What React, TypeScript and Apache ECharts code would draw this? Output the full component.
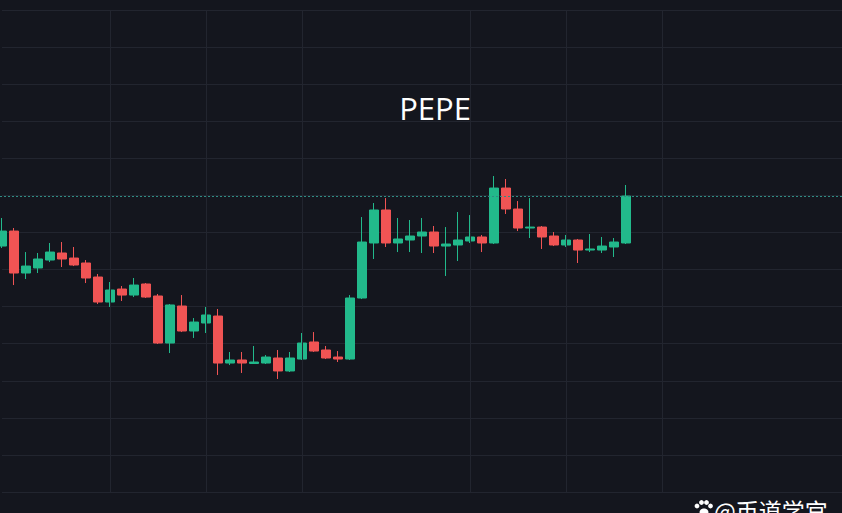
import React, { useEffect, useRef } from "react";
import * as echarts from "echarts";

// OHLC values (arbitrary price units)
const opens = [
  1.3317, 1.3519, 1.2953, 1.3021, 1.3128, 1.3223, 1.3155, 1.3088, 1.2899, 1.2562,
  1.2737, 1.2656, 1.2805, 1.2643, 1.2009, 1.2508, 1.2171, 1.2279, 1.2373, 1.1739,
  1.178, 1.1733, 1.1739, 1.1807, 1.1632, 1.1793, 1.2023, 1.1915, 1.182, 1.1793,
  1.2616, 1.3358, 1.3803, 1.3358, 1.3398, 1.3452, 1.3506, 1.3317, 1.3331, 1.3385,
  1.3439, 1.3358, 1.4099, 1.3816, 1.356, 1.3573, 1.3452, 1.3331, 1.3398, 1.3263,
  1.3263, 1.3304, 1.3358,
];
const closes = [
  1.3519, 1.2953, 1.3047, 1.3142, 1.3236, 1.3142, 1.3061, 1.2886, 1.2562, 1.2724,
  1.2656, 1.2791, 1.2629, 1.2009, 1.2522, 1.2171, 1.2292, 1.2387, 1.1739, 1.178,
  1.1739, 1.1753, 1.182, 1.1632, 1.1807, 1.2009, 1.1901, 1.1807, 1.1793, 1.2616,
  1.3371, 1.3803, 1.3358, 1.3412, 1.3452, 1.3506, 1.3317, 1.3344, 1.3398, 1.3439,
  1.3358, 1.4099, 1.3816, 1.356, 1.3573, 1.3439, 1.3331, 1.3398, 1.3263, 1.3277,
  1.3317, 1.3371, 1.3991,
];
const lows = [
  1.329, 1.2791, 1.2872, 1.2953, 1.3101, 1.3034, 1.3047, 1.2818, 1.2535, 1.2495,
  1.2576, 1.2629, 1.2616, 1.1996, 1.1874, 1.2157, 1.2077, 1.2144, 1.1578, 1.1712,
  1.1605, 1.1726, 1.1726, 1.1524, 1.1618, 1.178, 1.1888, 1.1793, 1.1753, 1.178,
  1.2602, 1.3142, 1.3304, 1.3236, 1.3236, 1.3223, 1.3223, 1.2913, 1.3115, 1.3358,
  1.3236, 1.3344, 1.3749, 1.3519, 1.3425, 1.3277, 1.3317, 1.3304, 1.3088, 1.3236,
  1.3223, 1.3169, 1.3344,
];
const highs = [
  1.3695, 1.356, 1.3236, 1.3223, 1.3358, 1.3371, 1.3304, 1.3128, 1.294, 1.2832,
  1.2778, 1.2886, 1.2818, 1.267, 1.2535, 1.2656, 1.2346, 1.2495, 1.2468, 1.1888,
  1.1888, 1.1969, 1.1847, 1.1915, 1.1888, 1.2144, 1.2157, 1.1969, 1.1901, 1.2656,
  1.3708, 1.3897, 1.3964, 1.3695, 1.3668, 1.3695, 1.3587, 1.3573, 1.3776, 1.3735,
  1.3466, 1.4261, 1.4221, 1.3924, 1.3964, 1.3587, 1.3506, 1.3466, 1.3412, 1.3479,
  1.3439, 1.3425, 1.414,
];
// total category slots (empty space on the right of the last candle)
const slotCount = 71;
const categories = Array.from({ length: slotCount }, (_, i) => `D${i + 1}`);
// slots where the vertical grid lines fall
const gridSlots = [9, 17, 25, 39, 47, 55];

const BG = "#14161e";
const GRID = "#22252f";
const UP = "#22b98b";
const DOWN = "#f05454";

export default function App() {
  const ref = useRef<HTMLDivElement>(null);
  useEffect(() => {
    if (!ref.current) return;
    const chart = echarts.init(ref.current, undefined, { renderer: "svg" });
    const ohlc = opens.map((o, i) => [o, closes[i], lows[i], highs[i]]);
    const lastClose = closes[closes.length - 1];
    chart.setOption({
      animation: false,
      backgroundColor: BG,
      grid: { left: 2, top: 10, width: (slotCount - 1) * 12.02, height: 482 },
      xAxis: {
        type: "category",
        data: categories,
        boundaryGap: false,
        axisLine: { show: false },
        axisTick: { show: false },
        axisLabel: { show: false },
        splitLine: { show: false },
      },
      yAxis: {
        type: "value",
        min: 1.0,
        max: 1.65,
        interval: 0.05,
        axisLine: { show: false },
        axisTick: { show: false },
        axisLabel: { show: false },
        splitLine: { show: true, lineStyle: { color: GRID, width: 1 } },
      },
      series: [
        {
          type: "line",
          z: 1,
          data: opens.map(() => "-"),
          silent: true,
          markLine: {
            silent: true,
            symbol: ["none", "none"],
            label: { show: false },
            lineStyle: { color: GRID, type: "solid", width: 1 },
            data: gridSlots.map((s) => ({ xAxis: categories[s] })),
          },
        },
        {
          type: "candlestick",
          z: 3,
          clip: false,
          barWidth: 9,
          data: ohlc,
          itemStyle: {
            color: UP,
            color0: DOWN,
            borderColor: UP,
            borderColor0: DOWN,
            borderWidth: 1,
          },
          markLine: {
            silent: true,
            symbol: ["none", "none"],
            label: { show: false },
            lineStyle: { color: "#2f8c84", type: [2, 2], width: 1 },
            data: [
              [
                { coord: [categories[0], lastClose], x: 0 },
                { coord: [categories[slotCount - 1], lastClose] },
              ],
            ],
          },
        },
      ],
      graphic: [
        {
          type: "text",
          x: 435,
          y: 108,
          style: {
            text: "PEPE",
            fill: "#ffffff",
            font: '31px "Open Sans"',
            textAlign: "center",
            textVerticalAlign: "middle",
          },
        },
        {
          type: "text",
          x: 714,
          y: 498,
          style: {
            text: "@币道学宫",
            fill: "#ffffff",
            font: '23px "Noto Sans CJK SC"',
            textAlign: "left",
            textVerticalAlign: "top",
          },
        },
        { type: "circle", shape: { cx: 697, cy: 506, r: 2.4 }, style: { fill: "#ffffff" } },
        { type: "circle", shape: { cx: 701.5, cy: 502.5, r: 2.4 }, style: { fill: "#ffffff" } },
        { type: "circle", shape: { cx: 706.5, cy: 502.5, r: 2.4 }, style: { fill: "#ffffff" } },
        { type: "circle", shape: { cx: 710.5, cy: 506, r: 2.4 }, style: { fill: "#ffffff" } },
        { type: "ellipse", shape: { cx: 704, cy: 512, rx: 4.5, ry: 3.5 }, style: { fill: "#ffffff" } },
      ],
    });
    return () => chart.dispose();
  }, []);
  return (
    <div
      ref={ref}
      style={{ position: "fixed", left: 0, top: 0, width: 842, height: 513 }}
    />
  );
}
